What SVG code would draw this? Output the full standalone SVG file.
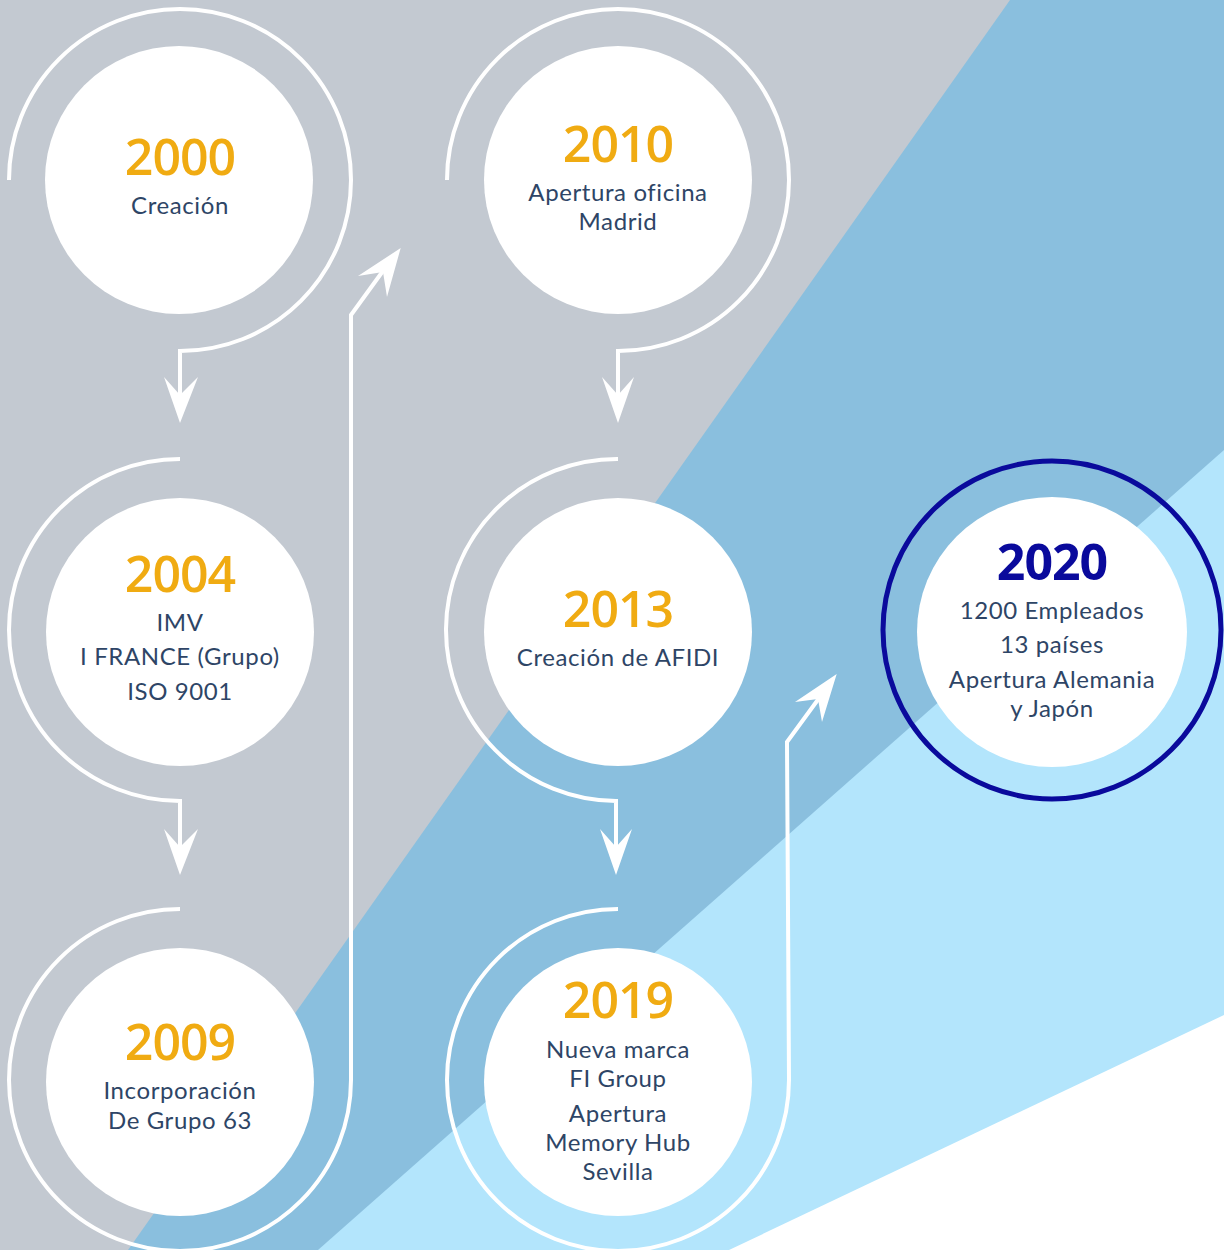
<svg xmlns="http://www.w3.org/2000/svg" width="1224" height="1250" viewBox="0 0 1224 1250">
<style>
.ring{fill:none;stroke:#fff;stroke-width:4;stroke-linejoin:miter}
.disc{fill:#fff}
.yr{font-family:"Open Sans","Liberation Sans",sans-serif;font-weight:600;font-size:50px;fill:#F0AB12;text-anchor:middle;letter-spacing:-1px}
.tx{font-family:Lato,"Open Sans","Liberation Sans",sans-serif;font-size:24px;fill:#2E4566;text-anchor:middle;letter-spacing:0.6px}
.head{fill:#fff}
</style>
<g id="background">
<rect x="0" y="0" width="1224" height="1250" fill="#C3C9D1"/>
<polygon points="1010,0 1224,0 1224,1250 128,1250" fill="#8ABFDE"/>
<polygon points="1224,450 1224,1250 318,1250" fill="#B3E5FC"/>
<polygon points="1224,1015 1224,1250 729,1250" fill="#FFFFFF"/>
</g>
<g id="connectors">
<path class="ring" d="M9,180 A171,171 0 1 1 180,351 L180,400"/>
<polygon class="head" points="164,377 180,423 198,377 180,395"/>
<path class="ring" d="M180,459 A171,171 0 0 0 180,801 L180,852"/>
<polygon class="head" points="164,829 180,875 198,829 180,847"/>
<path class="ring" d="M180,909 A171,171 0 1 0 351,1080 L351,315 L388,264"/>
<polygon class="head" points="358,276 400.7,248 387,297 383,272"/>
<path class="ring" d="M447,180 A171,171 0 1 1 618,351 L618,400"/>
<polygon class="head" points="602,377 618,423 634,377 618,395"/>
<path class="ring" d="M618,459 A171,171 0 0 0 616,801 L616,852"/>
<polygon class="head" points="600,829 616,875 632,829 616,847"/>
<path class="ring" d="M618,909 A171,171 0 1 0 789,1080 L787,742 L825,690"/>
<polygon class="head" points="795,702 836.7,674 822,722 818,699"/>
</g>
<g id="n2000">
<circle class="disc" cx="179" cy="180" r="134"/>
<text class="yr" x="180" y="175">2000</text>
<text class="tx" x="180" y="214">Creación</text>
</g>
<g id="n2004">
<circle class="disc" cx="180" cy="632" r="134"/>
<text class="yr" x="180" y="592">2004</text>
<text class="tx" x="180" y="631">IMV</text>
<text class="tx" x="180" y="665">I FRANCE (Grupo)</text>
<text class="tx" x="180" y="700">ISO 9001</text>
</g>
<g id="n2009">
<circle class="disc" cx="180" cy="1082" r="134"/>
<text class="yr" x="180" y="1060">2009</text>
<text class="tx" x="180" y="1099">Incorporación</text>
<text class="tx" x="180" y="1129">De Grupo 63</text>
</g>
<g id="n2010">
<circle class="disc" cx="618" cy="180" r="134"/>
<text class="yr" x="618" y="162">2010</text>
<text class="tx" x="618" y="201">Apertura oficina</text>
<text class="tx" x="618" y="230">Madrid</text>
</g>
<g id="n2013">
<circle class="disc" cx="618" cy="632" r="134"/>
<text class="yr" x="618" y="627">2013</text>
<text class="tx" x="618" y="666">Creación de AFIDI</text>
</g>
<g id="n2019">
<circle class="disc" cx="618" cy="1082" r="134"/>
<text class="yr" x="618" y="1018">2019</text>
<text class="tx" x="618" y="1058">Nueva marca</text>
<text class="tx" x="618" y="1087">FI Group</text>
<text class="tx" x="618" y="1122">Apertura</text>
<text class="tx" x="618" y="1151">Memory Hub</text>
<text class="tx" x="618" y="1180">Sevilla</text>
</g>
<g id="n2020">
<circle cx="1052" cy="630" r="169" fill="none" stroke="#0A0A9C" stroke-width="5"/>
<circle class="disc" cx="1052" cy="632" r="135"/>
<text class="yr" x="1052" y="580" style="fill:#0A0A9C;font-weight:700">2020</text>
<text class="tx" x="1052" y="619">1200 Empleados</text>
<text class="tx" x="1052" y="653">13 países</text>
<text class="tx" x="1052" y="688">Apertura Alemania</text>
<text class="tx" x="1052" y="717">y Japón</text>
</g>
</svg>
